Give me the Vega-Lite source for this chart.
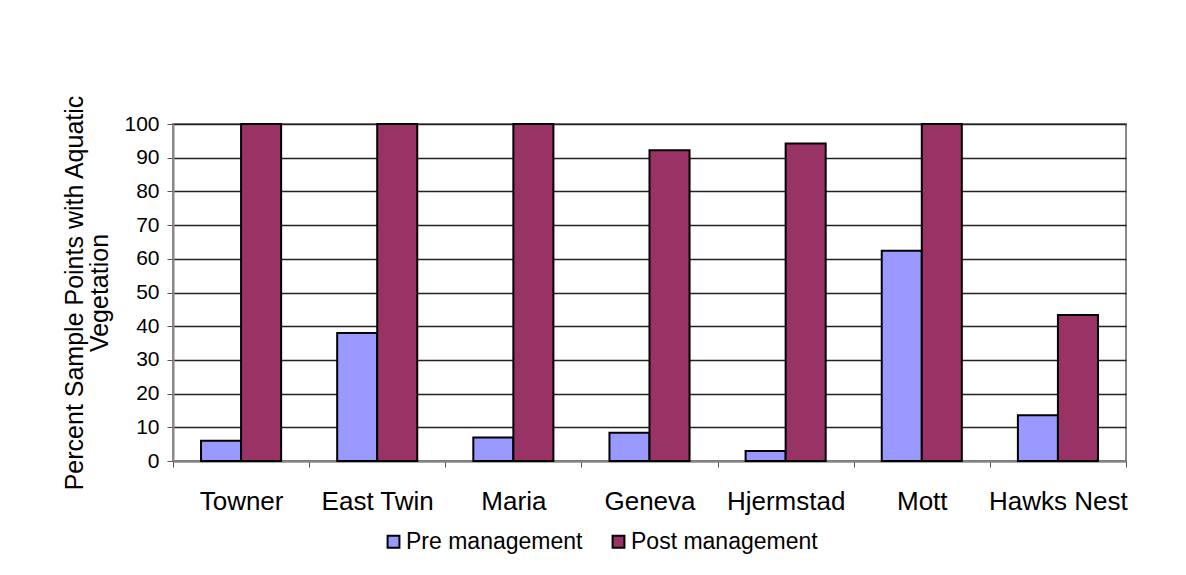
{
  "$schema": "https://vega.github.io/schema/vega-lite/v6.json",
  "autosize": {"type": "none"},
  "width": 953,
  "height": 337,
  "padding": {"left": 173, "top": 124, "right": 60, "bottom": 114},
  "background": "white",
  "config": {
    "font": "Liberation Sans",
    "view": {"stroke": "#888888", "strokeWidth": 2},
    "axis": {"labelFont": "Liberation Sans", "titleFont": "Liberation Sans", "labelColor": "black", "titleColor": "black"}
  },
  "data": {
    "values": [
      {"lake": "Towner", "period": "Pre management", "pct": 6},
      {"lake": "Towner", "period": "Post management", "pct": 100},
      {"lake": "East Twin", "period": "Pre management", "pct": 38},
      {"lake": "East Twin", "period": "Post management", "pct": 100},
      {"lake": "Maria", "period": "Pre management", "pct": 7},
      {"lake": "Maria", "period": "Post management", "pct": 100},
      {"lake": "Geneva", "period": "Pre management", "pct": 8.4},
      {"lake": "Geneva", "period": "Post management", "pct": 92.2},
      {"lake": "Hjermstad", "period": "Pre management", "pct": 3},
      {"lake": "Hjermstad", "period": "Post management", "pct": 94.2},
      {"lake": "Mott", "period": "Pre management", "pct": 62.4},
      {"lake": "Mott", "period": "Post management", "pct": 100},
      {"lake": "Hawks Nest", "period": "Pre management", "pct": 13.6},
      {"lake": "Hawks Nest", "period": "Post management", "pct": 43.3}
    ]
  },
  "mark": {"type": "bar", "stroke": "black", "strokeWidth": 2},
  "encoding": {
    "x": {
      "field": "lake",
      "type": "nominal",
      "sort": null,
      "scale": {"paddingInner": 0, "paddingOuter": 0},
      "axis": {
        "title": null,
        "labelAngle": 0,
        "labelFontSize": 26,
        "labelPadding": 21,
        "labelLimit": 0,
        "tickBand": "extent",
        "tickColor": "#555555",
        "tickSize": 6,
        "domainColor": "#888888",
        "domainWidth": 2
      }
    },
    "xOffset": {
      "field": "period",
      "sort": ["Pre management", "Post management"],
      "scale": {"paddingInner": 0, "paddingOuter": 0.7}
    },
    "y": {
      "field": "pct",
      "type": "quantitative",
      "scale": {"domain": [0, 100], "nice": false},
      "axis": {
        "title": ["Percent Sample Points with Aquatic", "Vegetation"],
        "titleFontSize": 25,
        "titleFontWeight": "normal",
        "titlePadding": 11,
        "titleLineHeight": 25,
        "values": [0, 10, 20, 30, 40, 50, 60, 70, 80, 90, 100],
        "labelFontSize": 21,
        "labelPadding": 8,
        "tickSize": 6,
        "tickColor": "#555555",
        "domainColor": "#888888",
        "domainWidth": 2,
        "grid": true,
        "gridColor": "#222222",
        "gridWidth": 1.5
      }
    },
    "color": {
      "field": "period",
      "type": "nominal",
      "sort": ["Pre management", "Post management"],
      "scale": {"domain": ["Pre management", "Post management"], "range": ["#9999FF", "#993366"]},
      "legend": {
        "title": null,
        "orient": "none",
        "direction": "horizontal",
        "legendX": 209,
        "legendY": 406,
        "symbolType": "square",
        "symbolSize": 140,
        "symbolStrokeColor": "black",
        "symbolStrokeWidth": 2,
        "labelFontSize": 23,
        "labelLimit": 0,
        "labelColor": "black",
        "labelFont": "Liberation Sans",
        "columnPadding": 24,
        "labelOffset": 1
      }
    }
  }
}
